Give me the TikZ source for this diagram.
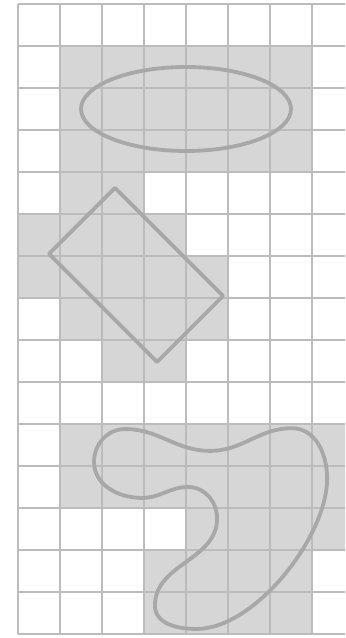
\documentclass[tikz,border=0pt]{standalone}
\usepackage{tikz}
\usepackage{xcolor}
\definecolor{cellgray}{RGB}{214,214,214}
\definecolor{gridgray}{RGB}{188,188,188}
\definecolor{shapegray}{RGB}{168,168,168}

\begin{document}
\begin{tikzpicture}[
  cell/.style={fill=cellgray},
  gridline/.style={draw=gridgray, line width=0.9pt},
  outline/.style={draw=shapegray, line width=2.6pt, line join=round}
]
\useasboundingbox (-0.4286,0.0952) rectangle (7.7857,-15.0952);
\clip (-0.4286,0.0952) rectangle (7.7857,-15.0952);
% covered cells: row/first column/last column
\foreach \r/\a/\b in {1/1/6, 2/1/6, 3/1/6, 4/1/2, 5/0/3, 6/0/4, 7/1/4, 8/2/3,
                      10/1/7, 11/1/7, 12/4/7, 13/3/6, 14/3/6}
  \fill[cell] (\a,-\r) rectangle (\b+1,-\r-1);
% grid
\foreach \x in {0,...,8}
  \draw[gridline] (\x,0) -- (\x,-15);
\foreach \y in {0,...,15}
  \draw[gridline] (0,-\y) -- (8.5,-\y);
% shapes
\draw[outline] (4,-2.5) ellipse (2.5 and 1);
\draw[outline, shift={(2.81,-6.45)}, rotate=-45] (-1.82,-1.11) rectangle (1.82,1.11);
\draw[outline] (1.81,-10.90) to[out=90,in=180] (2.55,-10.12)
  to[out=0,in=180] (4.57,-10.64) to[out=0,in=180] (6.52,-10.10)
  to[out=0,in=90] (7.36,-11.30) to[out=-90,in=0,looseness=0.75] (4.25,-14.88)
  to[out=180,in=-90] (3.26,-14.32) to[out=90,in=-90] (4.74,-12.25)
  to[out=90,in=0] (4.05,-11.50) to[out=180,in=0] (2.95,-11.76)
  to[out=180,in=-90] cycle;
\end{tikzpicture}
\end{document}
